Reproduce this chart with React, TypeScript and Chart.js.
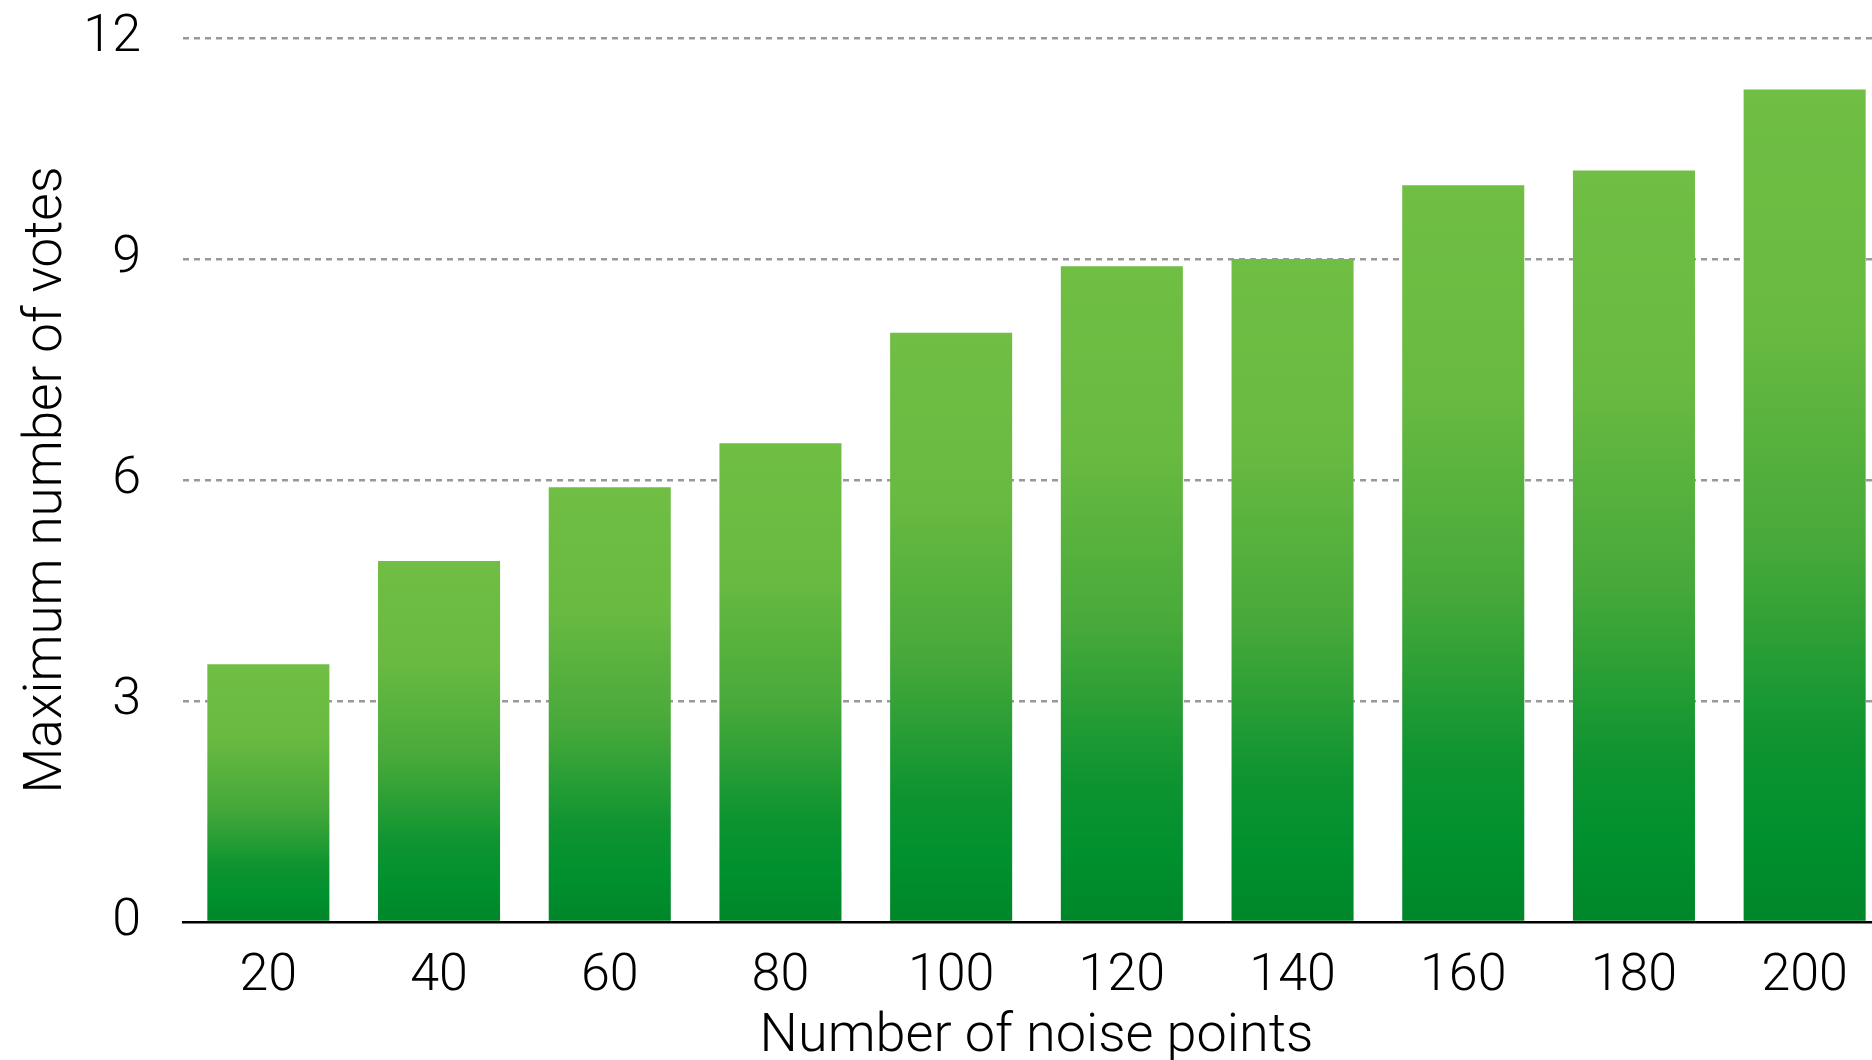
import React, { useEffect, useRef } from "react";
import { Chart, registerables } from "chart.js";

Chart.register(...registerables);

const categories = ["20", "40", "60", "80", "100", "120", "140", "160", "180", "200"];
const maxVotes = [3.5, 4.9, 5.9, 6.5, 8.0, 8.9, 9.0, 10.0, 10.2, 11.3];
const yTicks = [0, 3, 6, 9, 12];
const xTitle = "Number of noise points";
const yTitle = "Maximum number of votes";

const FONT = "Roboto, 'Liberation Sans', sans-serif";

export default function App() {
  const ref = useRef<HTMLCanvasElement | null>(null);

  useEffect(() => {
    if (!ref.current) return;
    const chart = new Chart(ref.current, {
      type: "bar",
      data: {
        labels: categories,
        datasets: [
          {
            data: maxVotes,
            barPercentage: 0.715,
            categoryPercentage: 1,
            borderWidth: 0,
            backgroundColor: (ctx: any) => {
              const c = ctx.chart;
              const { chartArea, scales } = c;
              if (!chartArea || ctx.type !== "data" || !scales.y) return "#6dbc43";
              const v = ctx.raw as number;
              const yTop = scales.y.getPixelForValue(v);
              const yBot = scales.y.getPixelForValue(0);
              const g = c.ctx.createLinearGradient(0, yTop, 0, yBot);
              g.addColorStop(0, "#70be44");
              g.addColorStop(0.28, "#69ba41");
              g.addColorStop(0.55, "#47a93a");
              g.addColorStop(0.78, "#0e9431");
              g.addColorStop(0.9, "#00902e");
              g.addColorStop(1, "#00862a");
              return g;
            },
          },
        ],
      },
      options: {
        animation: false,
        responsive: true,
        maintainAspectRatio: false,
        layout: { padding: { left: 0, top: 38, right: 0, bottom: 0 } },
        plugins: {
          legend: { display: false },
          tooltip: { enabled: false },
        },
        scales: {
          x: {
            grid: { display: false, drawTicks: false },
            border: { display: true, color: "#000", width: 2.5 },
            ticks: {
              color: "#000",
              padding: 24,
              font: { family: FONT, size: 52, weight: 300 as any, lineHeight: 1.2 },
            },
            title: {
              display: true,
              text: xTitle,
              color: "#000",
              padding: { top: 0, bottom: 0 },
              font: { family: FONT, size: 54, weight: 300 as any, lineHeight: 0.85 },
            },
            afterFit: (s: any) => {
              s.height = 138;
            },
          },
          y: {
            min: 0,
            max: 12,
            afterBuildTicks: (s: any) => {
              s.ticks = yTicks.map((v) => ({ value: v }));
            },
            grid: {
              color: (c: any) => (c.tick && c.tick.value === 0 ? "rgba(0,0,0,0)" : "#999999"),
              lineWidth: 2.5,
              drawTicks: true,
              tickLength: 42,
              tickColor: "rgba(0,0,0,0)",
            },
            border: { display: false, dash: [6, 5] },
            ticks: {
              color: "#000",
              padding: 0,
              font: { family: FONT, size: 52, weight: 300 as any, lineHeight: 1.2 },
            },
            title: {
              display: true,
              text: yTitle,
              color: "#000",
              padding: { top: 16, bottom: 0 },
              font: { family: FONT, size: 53, weight: 300 as any, lineHeight: 1.2 },
            },
            afterFit: (s: any) => {
              s.width = 183;
            },
          },
        },
      },
    });
    return () => chart.destroy();
  }, []);

  return (
    <div
      style={{
        position: "fixed",
        left: 0,
        top: 0,
        width: 1872,
        height: 1060,
        overflow: "hidden",
        background: "#fff",
      }}
    >
      <div style={{ position: "absolute", left: 0, top: 0, width: 1890, height: 1060 }}>
        <canvas ref={ref} />
      </div>
    </div>
  );
}
